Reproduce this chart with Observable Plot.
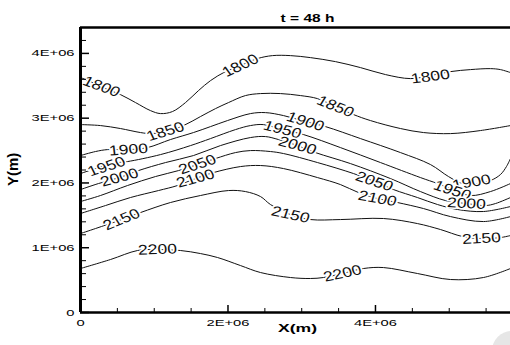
<!DOCTYPE html>
<html><head><meta charset="utf-8">
<script src="https://cdn.jsdelivr.net/npm/d3@7"></script>
<script src="https://cdn.jsdelivr.net/npm/@observablehq/plot@0.6"></script>
<style>
html,body{margin:0;padding:0;background:#fff;overflow:hidden;}
#wrap{position:relative;width:510px;height:345px;overflow:hidden;}
#blob{position:absolute;left:492px;top:331px;width:40px;height:40px;border-radius:50%;background:#e6e6e6;}
</style></head><body><div id="wrap"><div id="chart"></div><div id="blob"></div></div>
<script>
// ---- text ----
const title = "t = 48 h";
const xTitle = "X(m)";
const yTitle = "Y(m)";
// ---- ticks (units of 1E+06 m) ----
const xMajor = [0, 2, 4];
const xMinor = [0.5, 1, 1.5, 2.5, 3, 3.5, 4.5, 5, 5.5];
const yMajor = [0, 1, 2, 3, 4];
const yMinor = [0.2, 0.4, 0.6, 0.8, 1.2, 1.4, 1.6, 1.8, 2.2, 2.4, 2.6, 2.8, 3.2, 3.4, 3.6, 3.8, 4.2];
// ---- contour levels and traced points [X, Y] (units of 1E+06 m) ----
const levels = [1800, 1850, 1900, 1950, 2000, 2050, 2100, 2150, 2200];
const c1800 = [[0,3.627],[0.136,3.565],[0.339,3.457],[0.542,3.364],[0.746,3.241],[0.949,3.117],[1.085,3.071],[1.247,3.102],[1.424,3.241],[1.600,3.426],[1.763,3.580],[1.966,3.719],[2.169,3.812],[2.400,3.920],[2.603,3.966],[2.847,3.966],[3.119,3.935],[3.458,3.873],[3.797,3.781],[4.136,3.673],[4.475,3.611],[4.746,3.657],[5.017,3.719],[5.288,3.750],[5.559,3.765],[5.695,3.750],[5.831,3.704]];
const c1850 = [[0,2.901],[0.271,2.886],[0.542,2.840],[0.814,2.778],[0.949,2.762],[1.153,2.793],[1.397,2.886],[1.627,3.025],[1.831,3.148],[2.007,3.241],[2.237,3.349],[2.441,3.380],[2.712,3.380],[2.983,3.349],[3.214,3.302],[3.458,3.179],[3.702,3.056],[3.932,2.963],[4.339,2.840],[4.651,2.778],[5.017,2.762],[5.424,2.809],[5.831,2.886]];
const c1900 = [[0,2.423],[0.203,2.485],[0.366,2.515],[0.651,2.515],[0.908,2.546],[1.220,2.670],[1.532,2.778],[1.763,2.870],[1.993,2.963],[2.305,3.071],[2.508,3.086],[2.753,3.040],[3.051,2.948],[3.322,2.870],[3.797,2.685],[4.339,2.469],[4.746,2.284],[4.990,2.099],[5.180,1.991],[5.369,1.991],[5.559,2.037],[5.695,2.130],[5.776,2.253],[5.831,2.377]];
const c1950 = [[0,2.145],[0.203,2.222],[0.353,2.269],[0.515,2.315],[0.637,2.330],[1.085,2.438],[1.492,2.577],[1.763,2.685],[2.102,2.824],[2.305,2.886],[2.481,2.901],[2.739,2.824],[3.024,2.747],[3.525,2.546],[4.068,2.315],[4.610,2.083],[4.841,1.991],[5.044,1.898],[5.288,1.806],[5.559,1.867],[5.831,1.991]];
const c2000 = [[0,1.898],[0.244,1.991],[0.529,2.083],[0.786,2.191],[1.153,2.315],[1.532,2.423],[1.898,2.577],[2.305,2.701],[2.508,2.716],[2.685,2.670],[2.942,2.577],[3.186,2.469],[3.661,2.299],[4.203,2.068],[4.610,1.867],[4.949,1.728],[5.234,1.682],[5.492,1.651],[5.627,1.682],[5.831,1.775]];
const c2050 = [[0,1.713],[0.271,1.806],[0.637,1.960],[1.017,2.099],[1.329,2.191],[1.586,2.284],[1.831,2.377],[2.102,2.469],[2.305,2.500],[2.576,2.485],[2.753,2.454],[3.214,2.315],[3.702,2.145],[3.986,2.022],[4.244,1.898],[4.569,1.775],[4.841,1.667],[5.112,1.590],[5.464,1.559],[5.831,1.636]];
const c2100 = [[0,1.528],[0.339,1.651],[0.678,1.775],[1.058,1.883],[1.315,1.960],[1.559,2.068],[1.803,2.160],[2.169,2.253],[2.441,2.269],[2.753,2.222],[3.214,2.083],[3.525,1.975],[3.769,1.852],[4.027,1.759],[4.298,1.698],[4.651,1.605],[5.017,1.481],[5.464,1.404],[5.831,1.481]];
const c2150 = [[0,1.219],[0.203,1.296],[0.556,1.435],[0.814,1.543],[1.220,1.698],[1.627,1.806],[2.007,1.883],[2.237,1.867],[2.441,1.790],[2.576,1.667],[2.847,1.512],[3.119,1.435],[3.525,1.435],[4.108,1.451],[4.569,1.373],[4.881,1.281],[5.180,1.173],[5.437,1.142],[5.695,1.157],[5.831,1.188]];
const c2200 = [[0,0.679],[0.407,0.818],[0.773,0.957],[1.044,0.972],[1.356,0.957],[1.627,0.910],[1.858,0.849],[2.169,0.725],[2.441,0.617],[2.847,0.540],[3.119,0.525],[3.295,0.540],[3.553,0.602],[3.837,0.679],[4.108,0.694],[4.569,0.602],[5.017,0.509],[5.464,0.540],[5.831,0.679]];
// ---- in-line contour labels ----
const labelLevel = [1800,1800,1800,1850,1850,1900,1900,1900,1950,1950,1950,2000,2000,2000,2050,2050,2100,2100,2150,2150,2150,2200,2200];
const labelX = [0.285,2.169,4.746,1.153,3.458,0.651,3.051,5.302,0.353,2.739,5.044,0.529,2.942,5.234,1.586,3.986,1.559,4.027,0.556,2.847,5.437,1.044,3.553];
const labelY = [3.488,3.812,3.642,2.793,3.179,2.515,2.948,2.010,2.253,2.824,1.884,2.083,2.577,1.682,2.284,2.022,2.068,1.759,1.435,1.512,1.142,0.972,0.602];
const labelAngle = [20,-25,-7,-17,22,-4,17,-10,-18,14,18,-15,15,3,-18,18,-15,10,-22,12,-3,-2,-12];

const contourPoints = [c1800, c1850, c1900, c1950, c2000, c2050, c2100, c2150, c2200];
const rows = levels.flatMap((lv, k) => contourPoints[k].map(([x, y]) => ({level: lv, x, y})));
const labels = labelLevel.map((lv, i) => ({level: lv, x: labelX[i], y: labelY[i], angle: labelAngle[i]}));
const fmt = d => d === 0 ? "0" : `${d}E+06`;
const SX = {label: 1.25, tick: 1.55, title: 1.55, xt: 1.6};
const theta = a => Math.atan(SX.label * Math.tan(a * Math.PI / 180)) * 180 / Math.PI;

const chart = Plot.plot({
  width: 510, height: 345,
  marginLeft: 80, marginRight: 0, marginTop: 27, marginBottom: 33,
  style: {fontFamily: "'Liberation Sans', Arial, Helvetica, sans-serif", background: "white", color: "black"},
  x: {domain: [0, 5.831], axis: null},
  y: {domain: [0, 4.4], axis: null},
  marks: [
    Plot.line(rows, {x: "x", y: "y", z: "level", stroke: "#111", strokeWidth: 1, curve: "catmull-rom"}),
    Plot.text(labels, {x: "x", y: "y", text: d => String(d.level), rotate: d => theta(d.angle),
      fontSize: 14, fill: "#111", stroke: "white", strokeWidth: 3, paintOrder: "stroke"}),
    Plot.ruleY(yMinor, {y: d => d, x1: 0, x2: 0, insetRight: -6, stroke: "black", strokeWidth: 1}),
    Plot.ruleY(yMajor, {y: d => d, x1: 0, x2: 0, insetRight: -9, stroke: "black", strokeWidth: 1.5}),
    Plot.ruleX(xMinor, {x: d => d, y1: 0, y2: 0, insetTop: -4, stroke: "black", strokeWidth: 1}),
    Plot.ruleX(xMajor, {x: d => d, y1: 0, y2: 0, insetTop: -7, stroke: "black", strokeWidth: 1.5}),
    Plot.ruleX([0], {stroke: "black", strokeWidth: 3}),
    Plot.ruleY([0], {stroke: "black", strokeWidth: 2.5}),
    Plot.ruleY([4.4], {stroke: "black", strokeWidth: 2.5}),
    Plot.text(yMajor, {x: 0, y: d => d, text: fmt, textAnchor: "end", dx: -6, fontSize: 9.5, fill: "black"}),
    Plot.text(xMajor, {x: d => d, y: 0, text: fmt, dy: 10, fontSize: 9.5, fill: "black"}),
    Plot.text([title], {frameAnchor: "top", text: d => d, dx: 12, dy: -13, fontSize: 10, fontWeight: "bold", fill: "black"}),
    Plot.text([xTitle], {frameAnchor: "bottom", text: d => d, dx: 2, dy: 19, fontSize: 11, fontWeight: "bold", fill: "black"}),
    Plot.text([yTitle], {frameAnchor: "left", text: d => d, rotate: -90, dx: -67, dy: 16, fontSize: 15, fontWeight: "bold", fill: "black"})
  ]
});
document.getElementById("chart").appendChild(chart);

// horizontal stretch of the lettering, like the reference
function stretch(g, sx) {
  if (!g) return;
  g.querySelectorAll("text").forEach(t => {
    const tr = t.getAttribute("transform") || "";
    const m = tr.match(/translate\([^)]*\)/);
    if (m) {
      t.setAttribute("transform", m[0] + ` scale(${sx},1)` + tr.slice(m.index + m[0].length));
    } else {
      const x = +t.getAttribute("x") || 0, y = +t.getAttribute("y") || 0;
      t.setAttribute("transform", `translate(${x},${y}) scale(${sx},1) translate(${-x},${-y}) ` + tr);
    }
  });
}
const svg = chart.tagName.toLowerCase() === "svg" ? chart : chart.querySelector("svg");
const tgs = svg.querySelectorAll(':scope > g[aria-label="text"]');
stretch(tgs[0], SX.label);
stretch(tgs[1], SX.tick);
stretch(tgs[2], SX.tick);
stretch(tgs[3], SX.title);
stretch(tgs[4], SX.xt);
</script></body></html>
